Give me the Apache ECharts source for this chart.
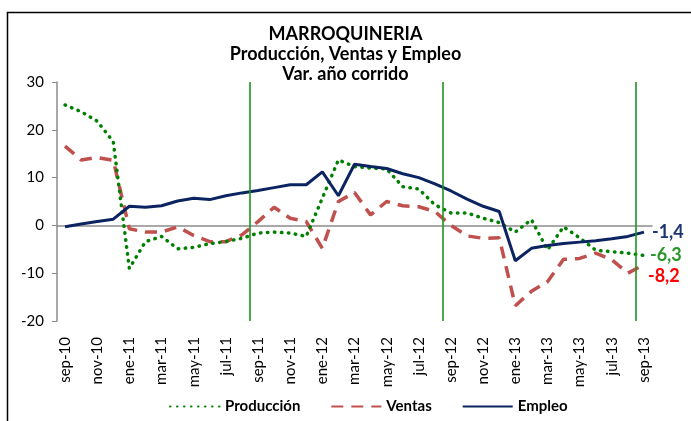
<!DOCTYPE html>
<html>
<head>
<meta charset="utf-8">
<script src="https://cdn.jsdelivr.net/npm/echarts@6/dist/echarts.min.js"></script>
<style>
  html, body { margin: 0; padding: 0; background: #fff; }
  #chart { width: 691px; height: 421px; }
</style>
</head>
<body>
<div id="chart"></div>
<script>
// Marroquineria: variacion año corrido
var meses = [
  "sep-10", "oct-10", "nov-10", "dic-10", "ene-11", "feb-11", "mar-11", "abr-11", "may-11", "jun-11", "jul-11", "ago-11",
  "sep-11", "oct-11", "nov-11", "dic-11", "ene-12", "feb-12", "mar-12", "abr-12", "may-12", "jun-12", "jul-12", "ago-12",
  "sep-12", "oct-12", "nov-12", "dic-12", "ene-13", "feb-13", "mar-13", "abr-13", "may-13", "jun-13", "jul-13", "ago-13",
  "sep-13"
];

var produccion = [
  25.2, 23.8, 21.8, 17.5, -9.0, -3.4, -2.3, -4.9, -4.6, -3.8, -3.4, -2.7,
  -1.6, -1.4, -1.6, -2.3, 5.7, 13.7, 12.3, 12.0, 11.8, 8.1, 7.6, 4.3,
  2.6, 2.6, 1.5, 0.6, -1.4, 1.2, -5.1, -0.3, -2.6, -5.2, -5.5, -5.8,
  -6.3
];

var ventas = [
  16.6, 13.7, 14.2, 13.6, -0.7, -1.4, -1.4, -0.3, -2.1, -3.4, -3.4, -2.0,
  0.8, 3.8, 1.5, 0.8, -4.8, 5.0, 6.9, 2.2, 5.0, 4.1, 3.9, 2.9,
  0.0, -2.2, -2.7, -2.6, -16.8, -13.8, -11.8, -7.1, -6.9, -5.8, -7.2, -10.0,
  -8.2
];

var empleo = [
  -0.3, 0.3, 0.8, 1.3, 4.0, 3.8, 4.1, 5.1, 5.7, 5.4, 6.2, 6.8,
  7.3, 7.9, 8.5, 8.5, 11.2, 6.2, 12.8, 12.3, 11.9, 10.8, 10.0, 8.7,
  7.2, 5.5, 4.0, 2.9, -7.4, -4.8, -4.2, -3.8, -3.5, -3.2, -2.8, -2.3,
  -1.4
];

// lineas verticales al inicio de cada año (sep)
var cortes = [];
meses.forEach(function (m, i) {
  if (i > 0 && m.indexOf("sep") === 0) cortes.push({ xAxis: i });
});

function coma(p) {
  return p.value.toFixed(1).replace(".", ",");
}

var chart = echarts.init(document.getElementById("chart"));

var option = {
  animation: false,
  textStyle: { fontFamily: "Lato" },
  graphic: [
    {
      type: "rect",
      shape: { x: 7.5, y: 12.5, width: 720, height: 500 },
      style: { fill: "none", stroke: "#000", lineWidth: 1.5 },
      silent: true
    }
  ],
  title: {
    text: "MARROQUINERIA\nProducción, Ventas y Empleo\nVar. año corrido",
    left: "center",
    top: 19,
    textStyle: { fontSize: 18, fontWeight: "bold", lineHeight: 20, color: "#000", fontFamily: "Lato" }
  },
  legend: {
    bottom: 2,
    left: 164,
    itemWidth: 50,
    itemHeight: 4,
    itemGap: 30,
    itemStyle: { opacity: 0 },
    textStyle: { fontSize: 15, fontWeight: "bold", color: "#000" },
    data: ["Producción", "Ventas", "Empleo"]
  },
  grid: { left: 57, top: 82, right: 39, bottom: 100 },
  xAxis: [
    {
      type: "category",
      data: meses,
      position: "bottom",
      axisLine: { show: false, onZero: false },
      axisTick: { show: false },
      axisLabel: { interval: 1, rotate: 90, margin: 16, fontSize: 15, color: "#000" }
    },
    {
      type: "category",
      data: meses,
      axisLine: { onZero: true, lineStyle: { color: "#8c8c8c", width: 1.5 } },
      axisTick: { interval: 1, inside: false, length: 5, lineStyle: { color: "#8c8c8c" } },
      axisLabel: { show: false }
    },
    {
      type: "value",
      min: 0,
      max: meses.length,
      show: false
    }
  ],
  yAxis: {
    type: "value",
    min: -20,
    max: 30,
    interval: 10,
    axisLine: { show: true, lineStyle: { color: "#8c8c8c", width: 1.5 } },
    axisTick: { show: true, length: 5, lineStyle: { color: "#8c8c8c" } },
    axisLabel: { fontSize: 15, color: "#000", margin: 13 },
    splitLine: { show: false }
  },
  series: [
    {
      name: "cortes",
      type: "line",
      xAxisIndex: 2,
      data: [],
      silent: true,
      markLine: {
        symbol: "none",
        silent: true,
        label: { show: false },
        lineStyle: { color: "#1f951f", width: 1.6, type: "solid" },
        data: cortes
      }
    },
    {
      name: "Producción",
      type: "line",
      data: produccion,
      symbol: "none",
      z: 3,
      lineStyle: { color: "#008000", width: 3.5, type: [0.5, 6.5], cap: "round" },
      itemStyle: { color: "#008000" },
      endLabel: { show: true, formatter: coma, fontSize: 18, fontWeight: "bold", color: "#2b962b", distance: 6 }
    },
    {
      name: "Ventas",
      type: "line",
      data: ventas,
      symbol: "none",
      z: 2,
      lineStyle: { color: "#c0504d", width: 3.5, type: [12, 8] },
      itemStyle: { color: "#c0504d" },
      endLabel: { show: true, formatter: coma, fontSize: 18, fontWeight: "bold", color: "#ff0000", distance: 4, offset: [0, 12] }
    },
    {
      name: "Empleo",
      type: "line",
      data: empleo,
      symbol: "none",
      z: 4,
      lineStyle: { color: "#0b2461", width: 3 },
      itemStyle: { color: "#0b2461" },
      endLabel: { show: true, formatter: coma, fontSize: 18, fontWeight: "bold", color: "#1c3470", distance: 8 }
    }
  ]
};

chart.setOption(option);

window.addEventListener("resize", function () {
  chart.resize();
});
</script>
</body>
</html>
